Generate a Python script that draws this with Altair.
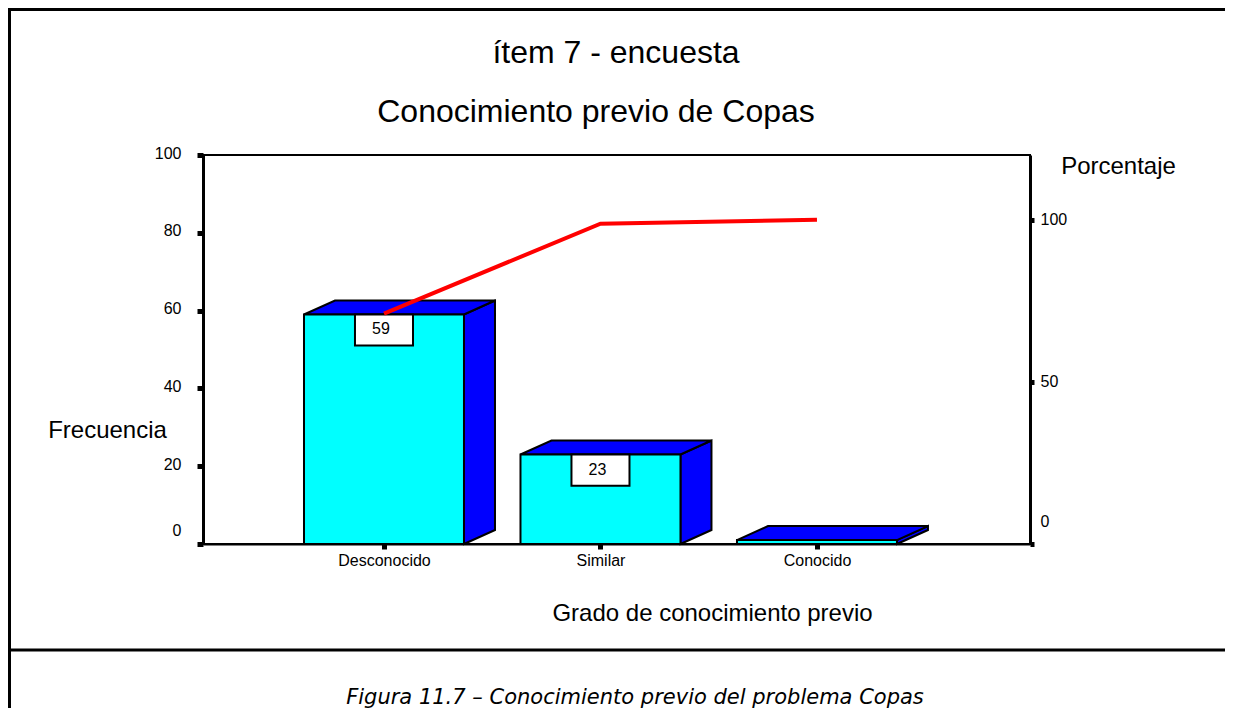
import json
import altair as alt
import numpy as np
import pandas as pd

# ---------------- data ----------------
categorias = ["Desconocido", "Similar", "Conocido"]
frecuencias = [59, 23, 1]
ticks_frecuencia = [0, 20, 40, 60, 80, 100]
ticks_porcentaje = [0, 50, 100]

titulo_1 = "ítem 7 - encuesta"
titulo_2 = "Conocimiento previo de Copas"
eje_x = "Grado de conocimiento previo"
eje_y = "Frecuencia"
eje_y2 = "Porcentaje"
pie = "Figura 11.7 – Conocimiento previo del problema Copas"

# ---------------- derived tables ----------------
idx = list(range(len(categorias)))
total = sum(frecuencias)
acumulado = list(np.cumsum(frecuencias) / total * 100)

HW = 0.3695   # half bar width (category units)
DX = 0.1432   # 3D depth, x (category units)
DY = 3.6      # 3D depth, y (frequency units)
BW = 0.134    # half label box width
BH = 8.0      # label box height (frequency units)

front = pd.DataFrame({
    "cat": categorias,
    "x": [i - HW for i in idx],
    "x2": [i + HW for i in idx],
    "y": [0] * len(idx),
    "y2": frecuencias,
})

top_rows, side_rows = [], []
for i, c, v in zip(idx, categorias, frecuencias):
    top_rows += [
        {"cat": c, "x": i - HW, "y": v, "y2": v},
        {"cat": c, "x": i - HW + DX, "y": v, "y2": v + DY},
        {"cat": c, "x": i + HW, "y": v, "y2": v + DY},
        {"cat": c, "x": i + HW + DX, "y": v + DY, "y2": v + DY},
    ]
    side_rows += [
        {"cat": c, "x": i + HW, "y": 0, "y2": v},
        {"cat": c, "x": i + HW + DX, "y": DY, "y2": v + DY},
    ]
top = pd.DataFrame(top_rows)
side = pd.DataFrame(side_rows)

labels = pd.DataFrame({
    "cat": categorias,
    "xc": idx,
    "x": [i - BW for i in idx],
    "x2": [i + BW for i in idx],
    "y": frecuencias,
    "y2": [v - BH for v in frecuencias],
    "lab": [str(v) for v in frecuencias],
})
labels = labels[labels["y"] >= 5]

linea = pd.DataFrame({"x": idx, "pct": acumulado, "cat": categorias})
dummy = pd.DataFrame({"a": [0]})

# ---------------- scales / axes ----------------
FONT = "Liberation Sans"
label_expr = json.dumps(categorias) + "[datum.value]"

X_SCALE = alt.Scale(domain=[-0.836, 2.984], nice=False, zero=False)
X_AXIS = alt.Axis(
    values=idx, labelExpr=label_expr, title=eje_x, grid=False,
    tickSize=5, tickWidth=5, domainWidth=2, labelPadding=3,
    labelFontSize=16, titleFontSize=24, titleX=509, titleY=76,
    titleBaseline="alphabetic", titleAlign="center",
)
Y_SCALE = alt.Scale(domain=[0, 100], nice=False, zero=True)
Y_AXIS = alt.Axis(
    values=ticks_frecuencia, orient="left", title=eje_y, grid=False,
    tickSize=6, tickWidth=5, domainWidth=3, labelPadding=16,
    labelFontSize=16, labelBaseline="middle",
    labelOffset={"expr": "datum.value == 0 ? -14 : -2"},
    titleAngle=0, titleFontSize=24, titleX=-96, titleY=282,
    titleAlign="center", titleBaseline="alphabetic",
)
Y2_AXIS = alt.Axis(
    values=ticks_porcentaje, orient="right", title=eje_y2, grid=False,
    tickSize=4, tickWidth=5, domainWidth=3, labelPadding=6,
    labelFontSize=16, labelBaseline="middle",
    labelOffset={"expr": "datum.value == 0 ? -23 : 0"},
    titleAngle=0, titleFontSize=24, titleX=88, titleY=18,
    titleAlign="center", titleBaseline="alphabetic",
)


def X(f):
    return alt.X(f"{f}:Q", scale=X_SCALE, axis=X_AXIS)


def Y(f):
    return alt.Y(f"{f}:Q", scale=Y_SCALE, axis=Y_AXIS)


# ---------------- bar layers ----------------
side_l = alt.Chart(side).mark_area(
    fill="#0000FF", stroke="black", strokeWidth=2, opacity=1
).encode(x=X("x"), y=Y("y"), y2="y2:Q", detail="cat:N")

top_l = alt.Chart(top).mark_area(
    fill="#0000FF", stroke="black", strokeWidth=2, opacity=1
).encode(x=X("x"), y=Y("y"), y2="y2:Q", detail="cat:N")

front_l = alt.Chart(front).mark_rect(
    fill="#00FFFF", stroke="black", strokeWidth=2
).encode(x=X("x"), x2="x2:Q", y=Y("y"), y2="y2:Q")

box_l = alt.Chart(labels).mark_rect(
    fill="white", stroke="black", strokeWidth=2
).encode(x=X("x"), x2="x2:Q", y=Y("y"), y2="y2:Q")

text_l = alt.Chart(labels).mark_text(
    font=FONT, fontSize=16, color="black", align="center",
    baseline="alphabetic", dy=20, dx=-3
).encode(x=X("xc"), y=Y("y"), text="lab:N")

freq = alt.layer(side_l, top_l, front_l, box_l, text_l)

line_l = alt.Chart(linea).mark_line(color="#FF0000", strokeWidth=4).encode(
    x=X("x"),
    y=alt.Y("pct:Q", scale=alt.Scale(domain=[0, 120], nice=False), axis=Y2_AXIS),
)

# ---------------- frame (decoration, pixel positions) ----------------
frame_box = alt.Chart(dummy).mark_rect(
    fill="transparent", stroke="black", strokeWidth=3
).encode(
    x=alt.value(-193.5), x2=alt.value(1060),
    y=alt.value(-145.5), y2=alt.value(495),
)
frame_low = alt.Chart(dummy).mark_rect(fill="black", strokeWidth=0).encode(
    x=alt.value(-195), x2=alt.value(-192), y=alt.value(495), y2=alt.value(553)
)


def label(txt, x, y, size, style="normal", font=FONT):
    return alt.Chart(dummy).mark_text(
        font=font, fontSize=size, fontStyle=style, color="black",
        align="center", baseline="alphabetic"
    ).encode(x=alt.value(x), y=alt.value(y), text=alt.value(txt))


texts = [
    label(titulo_1, 413, -92, 32),
    label(titulo_2, 393, -33, 32),
    label(pie, 432, 549, 21, style="italic", font="DejaVu Sans"),
]

chart = alt.layer(frame_box, frame_low, freq, line_l, *texts).resolve_scale(
    y="independent"
).properties(
    width=827, height=389,
    padding={"left": 195, "top": 147, "right": 195, "bottom": 164},
    autosize=alt.AutoSizeParams(type="none"),
    background="white",
).configure_view(
    stroke="black", strokeWidth=2
).configure_axis(
    domainColor="black", tickColor="black", labelColor="black",
    titleColor="black", labelFont=FONT, titleFont=FONT,
    titleFontWeight="normal",
)

chart.save("out.html", embed_options={"renderer": "svg", "actions": False})
